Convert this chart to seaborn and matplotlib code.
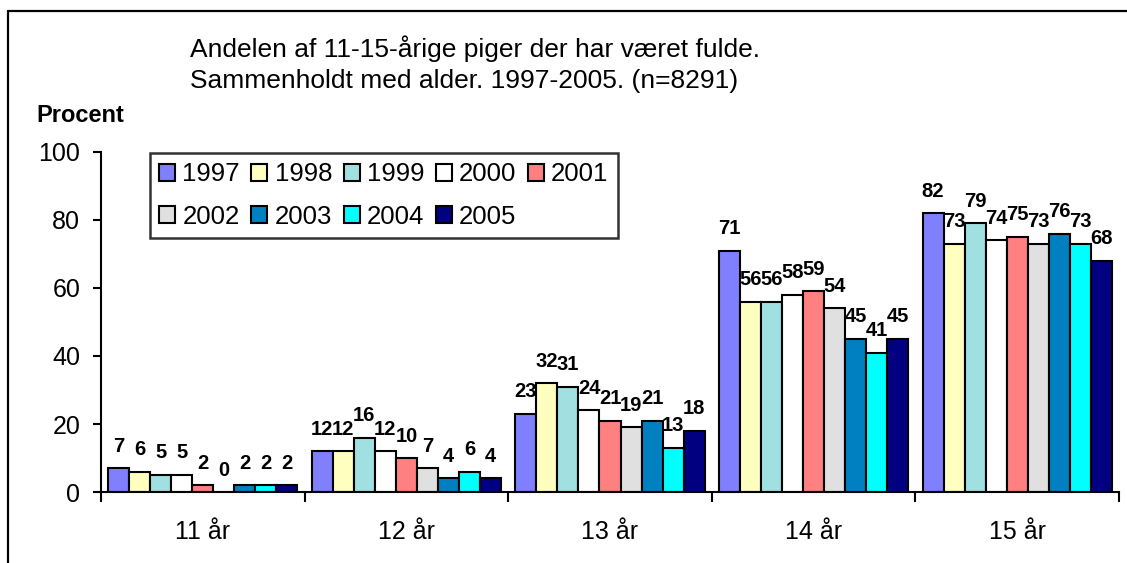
import pandas as pd
import matplotlib.pyplot as plt
import seaborn as sns
from matplotlib.lines import Line2D

ages = ['11 år', '12 år', '13 år', '14 år', '15 år']
years = ['1997', '1998', '1999', '2000', '2001', '2002', '2003', '2004', '2005']
colors = ['#8080FF', '#FFFFC0', '#A0E0E0', '#FFFFFF', '#FF8080',
          '#E0E0E0', '#0080C0', '#00FFFF', '#000080']

v1997 = [7, 12, 23, 71, 82]
v1998 = [6, 12, 32, 56, 73]
v1999 = [5, 16, 31, 56, 79]
v2000 = [5, 12, 24, 58, 74]
v2001 = [2, 10, 21, 59, 75]
v2002 = [0, 7, 19, 54, 73]
v2003 = [2, 4, 21, 45, 76]
v2004 = [2, 6, 13, 41, 73]
v2005 = [2, 4, 18, 45, 68]

series = [v1997, v1998, v1999, v2000, v2001, v2002, v2003, v2004, v2005]
rows = []
for year, vals in zip(years, series):
    for age, v in zip(ages, vals):
        rows.append({'age': age, 'year': year, 'value': v})
df = pd.DataFrame(rows)

sns.set_style('white')
plt.rcParams['font.family'] = ['Liberation Sans', 'DejaVu Sans']
plt.rcParams['text.color'] = 'black'
plt.rcParams['xtick.color'] = 'black'
plt.rcParams['ytick.color'] = 'black'
plt.rcParams['axes.labelcolor'] = 'black'

fig = plt.figure(figsize=(11.27, 5.63), dpi=100)
ax = fig.add_axes([101 / 1127, 1 - 492 / 563, 1018 / 1127, 340 / 563])

sns.barplot(data=df, x='age', y='value', hue='year', order=ages, hue_order=years,
            palette=colors, saturation=1, width=0.93, gap=0,
            edgecolor='black', linewidth=1.5, ax=ax)

for cont in ax.containers:
    ax.bar_label(cont, fmt='%d', padding=9, fontsize=14.5, fontweight='bold', color='black')

ax.set_ylim(0, 100)
ax.set_xlim(-0.5, 4.5)
ax.set_yticks(range(0, 101, 20))
ax.set_xlabel('')
ax.set_ylabel('')
ax.set_xticks([i - 0.5 for i in range(6)], minor=True)
ax.tick_params(axis='x', which='major', length=0, labelsize=18, pad=20)
ax.tick_params(axis='x', which='minor', length=7, width=1.5, direction='out', color='black')
ax.tick_params(axis='y', length=6, width=1.5, direction='out', color='black', labelsize=18, pad=9)
ax.yaxis.set_tick_params(left=True)
ax.xaxis.set_tick_params(which='minor', bottom=True)
for s in ['top', 'right']:
    ax.spines[s].set_visible(False)
for s in ['left', 'bottom']:
    ax.spines[s].set_color('black')
    ax.spines[s].set_linewidth(1.5)

# legend, reordered so matplotlib's column filling gives two rows
handles, labels = ax.get_legend_handles_labels()
ax.get_legend().remove()
order = [0, 5, 1, 6, 2, 7, 3, 8, 4]
leg = fig.legend([handles[i] for i in order], [labels[i] for i in order],
                 ncol=5, loc='upper left', bbox_to_anchor=(150 / 1127, 1 - 153 / 563),
                 fontsize=18.5, frameon=True, fancybox=False, edgecolor='black',
                 handlelength=0.62, handleheight=0.62, handletextpad=0.28,
                 columnspacing=0.45, labelspacing=0.72, borderpad=0.36, borderaxespad=0)
leg.get_frame().set_linewidth(1.8)

fig.text(190 / 1127, 1 - 49 / 563, 'Andelen af 11-15-årige piger der har været fulde.',
         fontsize=19, va='center', ha='left')
fig.text(190 / 1127, 1 - 81 / 563, 'Sammenholdt med alder. 1997-2005. (n=8291)',
         fontsize=19, va='center', ha='left')
fig.text(36 / 1127, 1 - 115 / 563, 'Procent', fontsize=17, fontweight='bold',
         va='center', ha='left')

# outer frame (only left and top edges visible in the picture)
fig.add_artist(Line2D([8 / 1127, 8 / 1127], [0, 1 - 11 / 563], color='black', lw=1.6))
fig.add_artist(Line2D([8 / 1127, 1], [1 - 11 / 563, 1 - 11 / 563], color='black', lw=1.6))

fig.savefig('out.png', dpi=100)
